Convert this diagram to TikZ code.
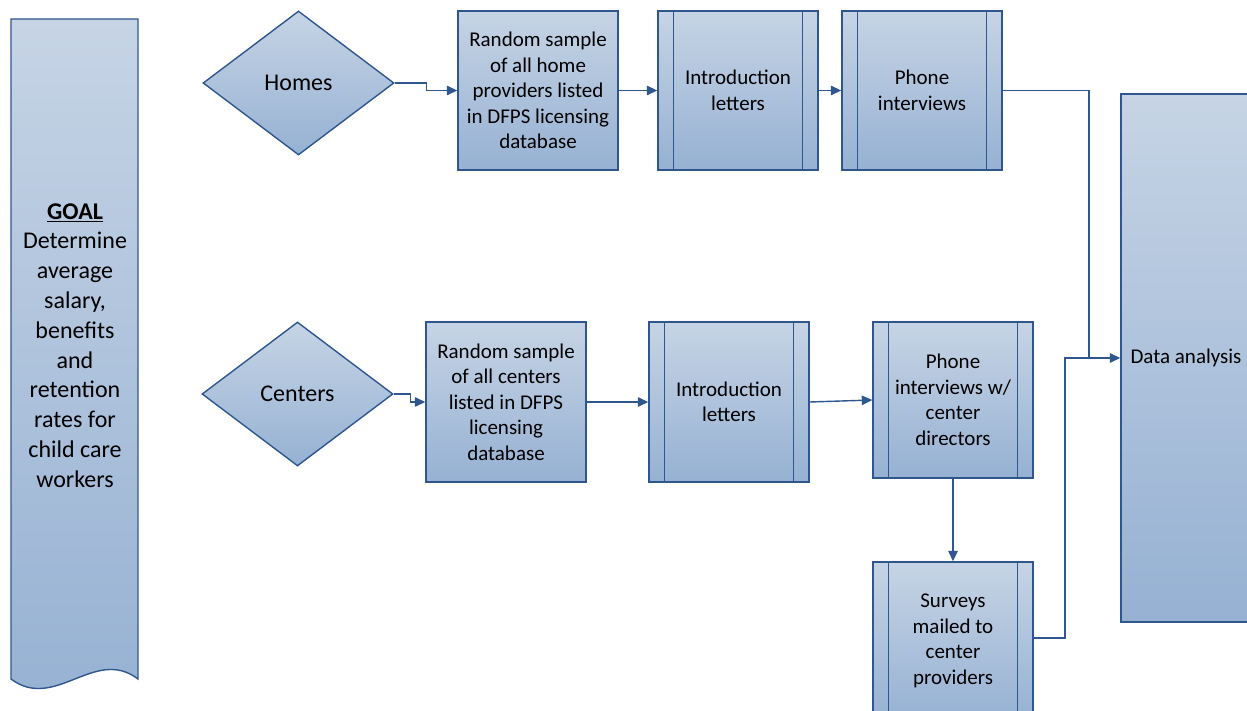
\documentclass[tikz,border=0pt]{standalone}
\usepackage{fontspec}
\setmainfont{Carlito}
\usetikzlibrary{shapes.geometric,arrows.meta}
\definecolor{bordc}{RGB}{47,87,142}
\definecolor{topc}{RGB}{198,212,229}
\definecolor{botc}{RGB}{150,177,211}
\tikzset{
  base/.style={draw=bordc, line width=1.4pt, top color=topc, bottom color=botc, inner sep=0pt, align=center, text=black, font=\fontsize{21}{25.5}\selectfont},
  procbox/.style={base, rectangle},
  predef/.style={procbox, path picture={
      \draw[bordc, line width=1.4pt] ([xshift=15.5pt]path picture bounding box.north west) -- ([xshift=15.5pt]path picture bounding box.south west);
      \draw[bordc, line width=1.4pt] ([xshift=-15.5pt]path picture bounding box.north east) -- ([xshift=-15.5pt]path picture bounding box.south east);}},
  decision/.style={base, diamond, minimum width=191pt, minimum height=144pt, font=\fontsize{24}{29}\selectfont},
  conn/.style={draw=bordc, line width=1.4pt, -{Triangle[length=10.5pt,width=9.5pt]}},
  plain/.style={draw=bordc, line width=1.4pt},
}
\begin{document}
\begin{tikzpicture}[x=1pt,y=-1pt]
\useasboundingbox (0,0) rectangle (1247,711);
\clip (0,0) rectangle (1247,711);
% goal shape
\path[draw=bordc, line width=1.4pt, top color=topc, bottom color=botc]
  (11,19) -- (138,19) -- (138,679) .. controls (95,646) and (55,712) .. (11,679) -- cycle;
\node[align=center, font=\fontsize{24}{29.8}\selectfont, inner sep=0pt] (goal) at (75,345.5)
  {\underline{\textbf{GOAL}}\\Determine\\average\\salary,\\benefits\\and\\retention\\rates for\\child care\\workers};
% homes row
\node[decision] (homes) at (298.5,83) {Homes};
\node[procbox, minimum width=160pt, minimum height=159pt] (hb1) at (538,90.5)
  {Random sample\\of all home\\providers listed\\in DFPS licensing\\database};
\node[predef, minimum width=160pt, minimum height=159pt] (hi) at (738,90.5) {Introduction\\letters};
\node[predef, minimum width=160pt, minimum height=159pt] (hp) at (922,90.5) {Phone\\interviews};
% centers row
\node[decision] (cent) at (297.5,394) {Centers};
\node[procbox, minimum width=160pt, minimum height=160pt] (cb1) at (506,402)
  {Random sample\\of all centers\\listed in DFPS\\licensing\\database};
\node[predef, minimum width=160pt, minimum height=160pt] (ci) at (729,402) {Introduction\\letters};
\node[predef, minimum width=160pt, minimum height=156pt] (cp) at (953,400) {Phone\\interviews w/\\center\\directors};
\node[predef, minimum width=160pt, minimum height=158pt] (cs) at (953,641) {Surveys\\mailed to\\center\\providers};
% data analysis
\node[procbox, minimum width=130pt, minimum height=528pt] (data) at (1186,358) {Data analysis};
% connectors
\coordinate (j1) at (1089,358);
\coordinate (j2) at (1065,358);
\draw[conn] (homes.east) -- ++(32,0) |- (hb1.west);
\draw[conn] (hb1.east) -- (hi.west);
\draw[conn] (hi.east) -- (hp.west);
\draw[plain] ([yshift=3pt]cs.east) -| (j2) -- (j1);
\draw[conn] (hp.east) -| (j1) -- (data.west);
\draw[conn] (cent.east) -- ++(17,0) |- (cb1.west);
\draw[conn] (cb1.east) -- (ci.west);
\draw[conn] (ci.east) -- (cp.west);
\draw[conn] (cp.south) -- (cs.north);
\end{tikzpicture}
\end{document}
